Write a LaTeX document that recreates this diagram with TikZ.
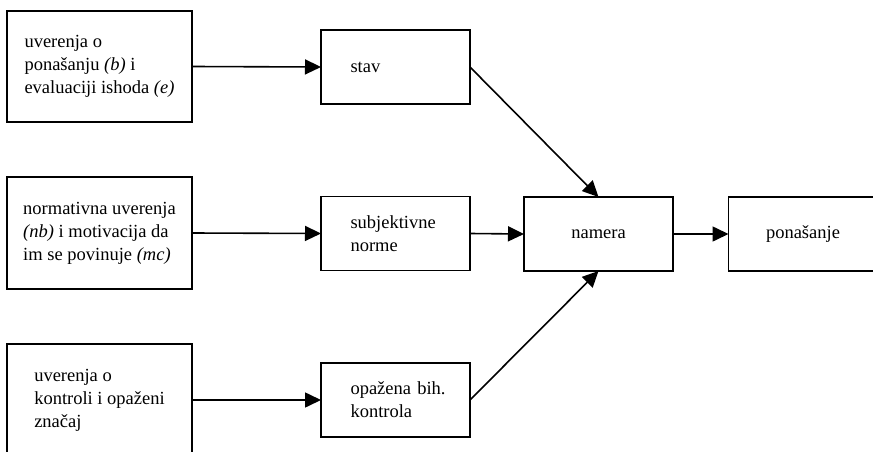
\documentclass[tikz,border=0pt]{standalone}
\usepackage{fontspec}
\setmainfont{Liberation Serif}
\usetikzlibrary{arrows.meta}
\tikzset{
  box/.style={draw, line width=1.6pt, inner sep=0pt, outer sep=0pt,
    minimum width=149pt, minimum height=74pt, align=left,
    font=\fontsize{18.5pt}{23pt}\selectfont},
  bigbox/.style={box, minimum width=185pt, minimum height=112pt},
  midbox/.style={box, text width=90pt},
  conn/.style={line width=1.6pt, -{Triangle[length=16pt,width=15pt]}}
}
\begin{document}
\begin{tikzpicture}[x=1pt,y=-1pt]
\useasboundingbox (0,0) rectangle (873,452);
\clip (0,0) rectangle (873,452);
\node[bigbox, minimum height=111pt] (a) at (99.5,66.5) {uverenja o\\ponašanju \textit{(b)} i\\evaluaciji ishoda \textit{(e)}};
\node[bigbox] (b) at (99.5,233) {normativna uverenja\\\textit{(nb)} i motivacija da\\im se povinuje \textit{(mc)}};
\node[bigbox] (c) at (99.5,400) {uverenja o\\kontroli i opaženi\\značaj};
\node[midbox] (stav) at (395.5,67) {stav};
\node[midbox] (sn) at (395.5,233.5) {subjektivne\\norme};
\node[midbox] (pbk) at (395.5,400) {opažena~bih.\\kontrola};
\node[box, align=center] (nam) at (598.5,234) {namera};
\node[box, align=center] (pon) at (803,234) {ponašanje};
\draw[conn] (a.east) -- (stav.west);
\draw[conn] (b.east) -- (sn.west);
\draw[conn] (c.east) -- (pbk.west);
\draw[conn] (stav.east) -- (nam.north);
\draw[conn] (sn.east) -- (nam.west);
\draw[conn] (pbk.east) -- (nam.south);
\draw[conn] (nam.east) -- (pon.west);
\end{tikzpicture}
\end{document}
